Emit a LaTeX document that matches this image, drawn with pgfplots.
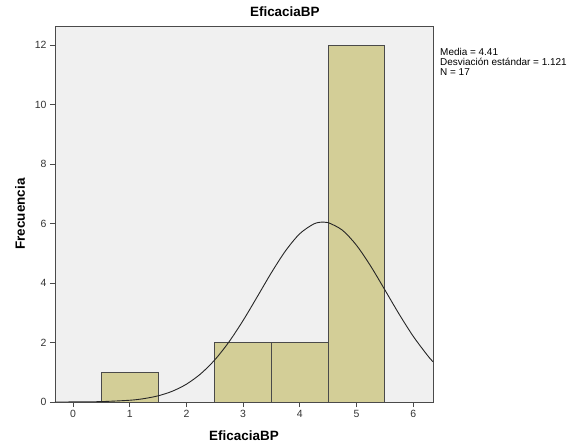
\documentclass[border=0pt]{standalone}
\usepackage{fontspec}
\setmainfont{Liberation Sans}
\usepackage{pgfplots}
\pgfplotsset{compat=1.18}
\definecolor{bgc}{HTML}{F0F0F0}
\definecolor{barc}{HTML}{D3CE97}
\definecolor{edgec}{HTML}{4A4A4A}
\begin{document}
\begin{tikzpicture}
\useasboundingbox (-55bp,-43bp) rectangle (515bp,402bp);
\begin{axis}[
  at={(0,0)}, anchor=south west,
  scale only axis,
  width=378bp, height=376bp,
  xmin=-0.32, xmax=6.35,
  ymin=0, ymax=12.64,
  xtick={0,1,2,3,4,5,6},
  ytick={0,2,4,6,8,10,12},
  tick align=outside,
  major tick length=5bp,
  xtick pos=bottom, ytick pos=left,
  tick style={edgec, line width=1pt},
  axis line style={edgec, line width=0.8pt},
  axis background/.style={fill=bgc},
  ticklabel style={font=\fontsize{10.5}{12}\selectfont, text=black!80},
  /pgf/number format/assume math mode=true,
  xlabel={EficaciaBP},
  ylabel={Frecuencia},
  every axis x label/.style={font=\bfseries\fontsize{13.5}{15}\selectfont, at={(axis description cs:0.5,-0.0904)}, anchor=center},
  every axis y label/.style={font=\bfseries\fontsize{13.5}{15}\selectfont, at={(axis description cs:-0.0926,0.5)}, anchor=center, rotate=90},
  title={EficaciaBP},
  every axis title/.style={font=\bfseries\fontsize{13.5}{15}\selectfont, at={(axis description cs:0.608,1.0372)}, anchor=center},
  clip=true,
]
\addplot[ybar, bar width=1, bar shift=0, fill=barc, draw=edgec, line width=0.9pt]
  coordinates {(1,1) (3,2) (4,2) (5,12)};
\addplot[black!85, line width=0.9pt, smooth, no markers] coordinates {
(-0.32,0.0009) (0,0.0026) (0.5,0.0138) (1,0.0592) (1.25,0.1138) (1.5,0.208)
(1.75,0.362) (2,0.600) (2.25,0.946) (2.5,1.417) (2.75,2.021) (3,2.743)
(3.25,3.542) (3.5,4.352) (3.75,5.087) (4,5.659) (4.25,5.989) (4.41,6.050)
(4.5,6.031) (4.75,5.778) (5,5.268) (5.25,4.569) (5.5,3.771) (5.75,2.961)
(6,2.212) (6.25,1.573) (6.35,1.353)
};
\end{axis}
\node[anchor=north west, align=left, font=\fontsize{10}{10}\selectfont, inner sep=0pt] at (385bp,354bp)
  {Media = 4.41\\Desviación estándar = 1.121\\N = 17};
\end{tikzpicture}
\end{document}
